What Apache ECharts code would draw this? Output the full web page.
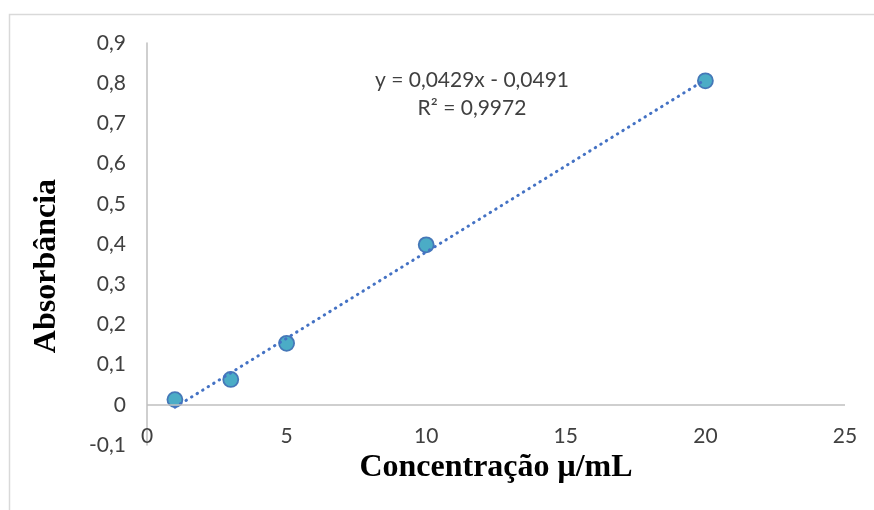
<!DOCTYPE html>
<html><head><meta charset="utf-8">
<script src="https://cdn.jsdelivr.net/npm/echarts@6/dist/echarts.min.js"></script>
<style>html,body{margin:0;padding:0;background:#fff}#c{width:874px;height:510px}</style>
</head><body><div id="c"></div>
<script>
const concentration = [1, 3, 5, 10, 20];
const absorbance = [0.013, 0.063, 0.153, 0.398, 0.806];
const trendX = [1, 20];
const trendY = [-0.0062, 0.8089];
const equationText = 'y = 0,0429x - 0,0491';
const r2Text = 'R² = 0,9972';
const yTitle = 'Absorbância';
const xTitle = 'Concentração μ/mL';
const xTicks = {min: 0, max: 25, interval: 5};
const yTicks = {min: -0.1, max: 0.9, interval: 0.1};

const chart = echarts.init(document.getElementById('c'), null, {renderer: 'canvas'});
const lbl = {color: '#404040', fontFamily: 'Lato', fontSize: 21};
const fmt = v => {
  const r = Math.round(v * 10) / 10;
  return (r === 0 ? '0' : r.toFixed(1)).replace('.', ',');
};
chart.setOption({
  animation: false,
  backgroundColor: '#fff',
  grid: {left: 147, right: 29, top: 43, bottom: 65},
  graphic: [
    {type: 'rect', shape: {x: 9.5, y: 14.5, width: 900, height: 600}, style: {fill: 'none', stroke: '#d9d9d9', lineWidth: 1.5}, z: -1},
    {type: 'text', x: 472, y: 80, style: {text: equationText, fill: '#404040', font: '21px Lato', textAlign: 'center', textVerticalAlign: 'middle'}},
    {type: 'text', x: 472, y: 108, style: {text: r2Text, fill: '#404040', font: '21px Lato', textAlign: 'center', textVerticalAlign: 'middle'}},
    {type: 'text', x: 47, y: 266, rotation: Math.PI / 2, style: {text: yTitle, fill: '#000', font: 'bold 32px "Liberation Serif"', textAlign: 'center', textVerticalAlign: 'middle'}}
  ],
  xAxis: {
    type: 'value', min: xTicks.min, max: xTicks.max, interval: xTicks.interval,
    axisLine: {show: false}, axisTick: {show: false}, splitLine: {show: false},
    axisLabel: Object.assign({margin: -19, formatter: v => String(v)}, lbl),
    name: xTitle, nameLocation: 'middle', nameGap: 7,
    nameTextStyle: {fontFamily: 'Liberation Serif', fontWeight: 'bold', fontSize: 32, color: '#000'}
  },
  yAxis: {
    type: 'value', min: yTicks.min, max: yTicks.max, interval: yTicks.interval,
    axisLine: {show: true, lineStyle: {color: '#bfbfbf', width: 1.5}}, axisTick: {show: false}, splitLine: {show: false},
    axisLabel: Object.assign({margin: 21, formatter: fmt}, lbl)
  },
  series: [
    {
      type: 'line', data: trendX.map((x, i) => [x, trendY[i]]), symbol: 'none',
      lineStyle: {color: '#4472c4', width: 3, type: [0.5, 6], cap: 'round'}, z: 3,
      markLine: {silent: true, symbol: 'none', label: {show: false},
        lineStyle: {color: '#bfbfbf', width: 1.5, type: 'solid'}, data: [{yAxis: 0}]}
    },
    {
      type: 'scatter', data: concentration.map((x, i) => [x, absorbance[i]]), symbolSize: 15,
      itemStyle: {color: '#4bacc6', borderColor: '#4578b8', borderWidth: 1.8, opacity: 1}, z: 2
    }
  ]
});
</script></body></html>
